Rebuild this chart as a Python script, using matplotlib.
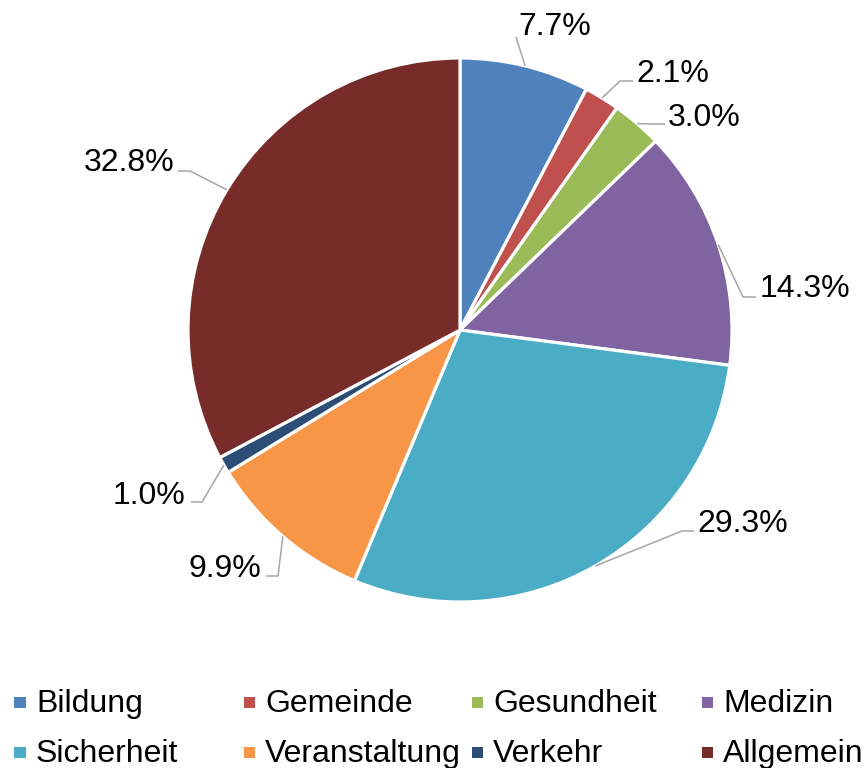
import matplotlib
matplotlib.use('Agg')
import matplotlib.pyplot as plt
import numpy as np
from matplotlib.patches import Rectangle

categories = ['Bildung', 'Gemeinde', 'Gesundheit', 'Medizin',
              'Sicherheit', 'Veranstaltung', 'Verkehr', 'Allgemein']
shares = [7.7, 2.1, 3.0, 14.3, 29.3, 9.9, 1.0, 32.8]
colors = ['#4F81BD', '#C0504D', '#9BBB59', '#8064A2',
          '#4BACC6', '#F79646', '#2C4D75', '#772C2A']

plt.rcParams['font.family'] = ['Liberation Sans', 'DejaVu Sans']

W, H = 865, 768
CX, CY, R = 460, 330, 272
FS = 23

fig = plt.figure(figsize=(W / 100, H / 100), dpi=100)
ax = fig.add_axes([0, 0, 1, 1])

wedges, _ = ax.pie(shares, colors=colors, startangle=90, counterclock=False,
                   radius=1, wedgeprops=dict(edgecolor='white', linewidth=2.3))
ax.set_xlim(-CX / R, (W - CX) / R)
ax.set_ylim(-(H - CY) / R, CY / R)
ax.set_aspect('auto')
ax.axis('off')


def px(x, y):
    return ((x - CX) / R, (CY - y) / R)


# leader-line elbows and text positions (pixel layout)
label_layout = [
    ([(516, 37)], (518, 35), 'left'),
    ([(620, 81), (633, 81)], (636, 82), 'left'),
    ([(653, 124), (665, 124)], (668, 126), 'left'),
    ([(743, 297), (756, 297)], (760, 297), 'left'),
    ([(682, 531), (694, 531)], (697, 532), 'left'),
    ([(278, 576), (266, 576)], (261, 577), 'right'),
    ([(202, 502), (191, 502)], (185, 504), 'right'),
    ([(190, 171), (178, 171)], (174, 171), 'right'),
]

for w, v, (pts, tpos, ha) in zip(wedges, shares, label_layout):
    mid = np.deg2rad((w.theta1 + w.theta2) / 2)
    xs = [np.cos(mid)] + [px(*p)[0] for p in pts]
    ys = [np.sin(mid)] + [px(*p)[1] for p in pts]
    ax.plot(xs, ys, color='#A6A6A6', lw=1.1, solid_capstyle='butt', zorder=3)
    tx, ty = px(*tpos)
    ax.text(tx, ty, f'{v:.1f}%', ha=ha, va='baseline', fontsize=FS, color='black')

# legend (4 columns x 2 rows)
col_x = [20, 249, 477, 707]
row_base = [712, 762]
row_mark = [702, 752]
msize = 11
for i, (name, c) in enumerate(zip(categories, colors)):
    col, row = i % 4, i // 4
    mx, my = col_x[col], row_mark[row]
    fig.patches.append(Rectangle(((mx - msize / 2) / W, 1 - (my + msize / 2) / H),
                                 msize / W, msize / H, transform=fig.transFigure,
                                 facecolor=c, edgecolor='none'))
    fig.text((mx + 16) / W, 1 - row_base[row] / H, name, ha='left', va='baseline',
             fontsize=FS, color='black')

fig.savefig('out.png', dpi=100)
